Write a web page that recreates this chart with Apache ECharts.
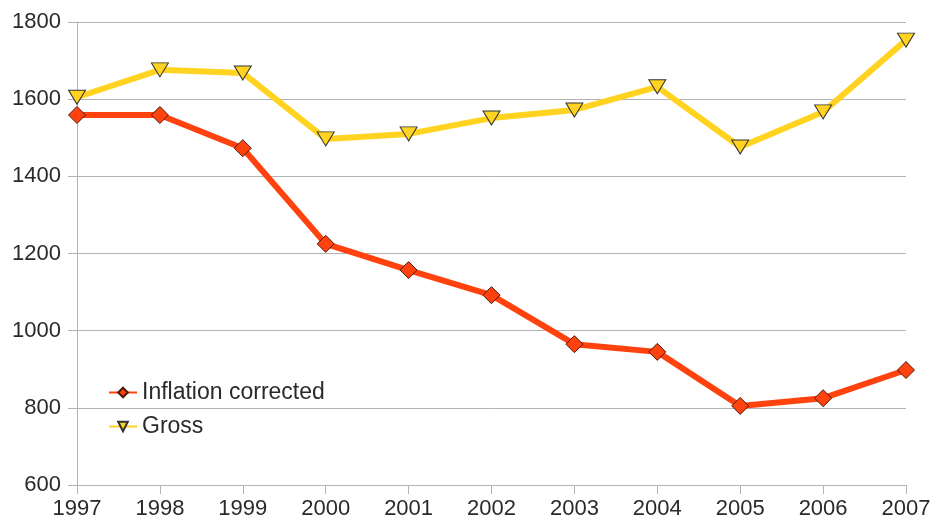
<!DOCTYPE html>
<html>
<head>
    <meta charset="utf-8">
    <script src="https://cdn.jsdelivr.net/npm/echarts@6/dist/echarts.min.js"></script>
</head>
<body style="margin:0;background:#fff;">
<div id="main" style="width: 934px;height:528px;"></div>
<script type="text/javascript">
    // data
    var years = ['1997', '1998', '1999', '2000', '2001', '2002', '2003', '2004', '2005', '2006', '2007'];
    var inflationCorrected = [1559, 1559, 1473, 1225, 1157, 1092, 965, 945, 805, 825, 898];
    var gross = [1605, 1676, 1668, 1497, 1510, 1551, 1572, 1632, 1476, 1567, 1753];

    var myChart = echarts.init(document.getElementById('main'));

    var option = {
        animation: false,
        backgroundColor: '#fff',
        grid: {left: 77, right: 28, top: 22, bottom: 43},
        legend: {
            orient: 'vertical',
            left: 103,
            top: 376,
            itemGap: 11,
            itemWidth: 28,
            itemHeight: 12,
            textStyle: {fontFamily: 'Liberation Sans', fontSize: 23, color: '#2a2a2a'},
            data: ['Inflation corrected', 'Gross']
        },
        xAxis: {
            type: 'category',
            data: years,
            boundaryGap: false,
            axisLine: {lineStyle: {color: '#b3b3b3', width: 1}},
            axisTick: {show: true, length: 9, lineStyle: {color: '#b3b3b3'}},
            axisLabel: {fontFamily: 'Liberation Sans', fontSize: 22, color: '#2a2a2a', margin: 13},
            splitLine: {show: false}
        },
        yAxis: {
            type: 'value',
            min: 600,
            max: 1800,
            interval: 200,
            axisLine: {show: true, lineStyle: {color: '#b3b3b3', width: 1}},
            axisTick: {show: true, length: 9, lineStyle: {color: '#b3b3b3'}},
            axisLabel: {
                fontFamily: 'Liberation Sans', fontSize: 22, color: '#2a2a2a', margin: 16,
                formatter: function (v) { return String(v); }
            },
            splitLine: {lineStyle: {color: '#b3b3b3', width: 1}}
        },
        series: [
            {
                name: 'Inflation corrected',
                type: 'line',
                data: inflationCorrected,
                symbol: 'diamond',
                symbolSize: 17,
                lineStyle: {color: '#ff420e', width: 6},
                itemStyle: {color: '#ff420e', borderColor: '#4a1a0a', borderWidth: 1}
            },
            {
                name: 'Gross',
                type: 'line',
                data: gross,
                symbol: 'triangle',
                symbolRotate: 180,
                symbolSize: [17, 14],
                lineStyle: {color: '#ffd320', width: 6},
                itemStyle: {color: '#ffd320', borderColor: '#333', borderWidth: 1}
            }
        ]
    };

    myChart.setOption(option);
</script>
</body>
</html>
